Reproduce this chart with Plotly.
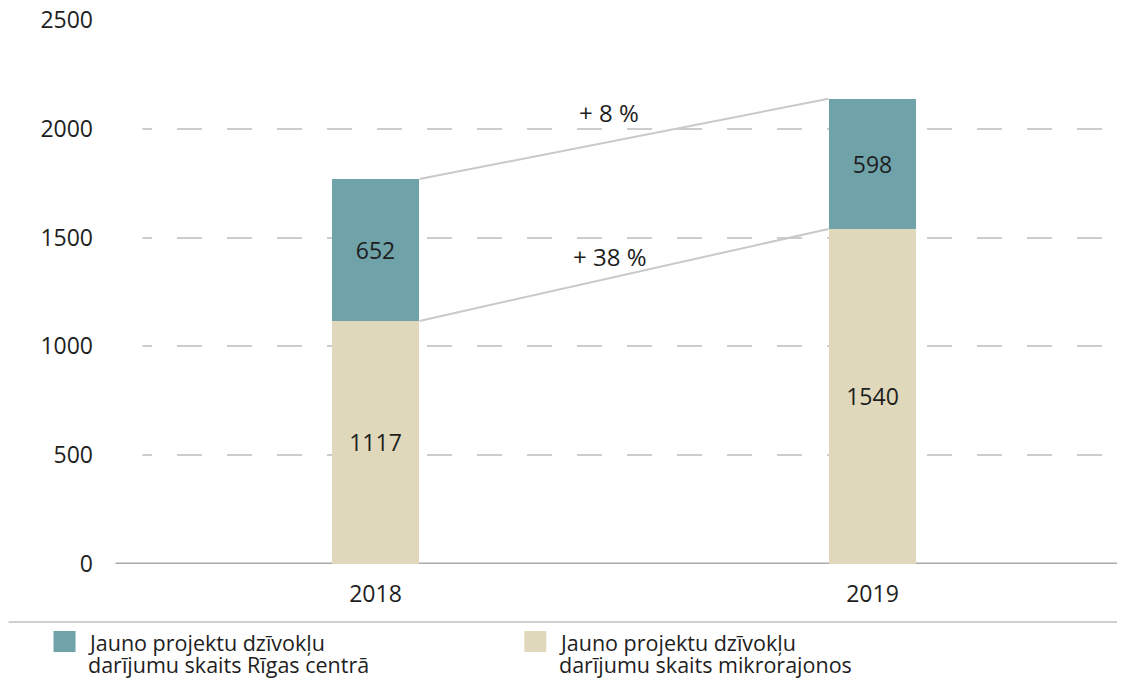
import plotly.graph_objects as go

# Datos del gráfico
anios = ["2018", "2019"]
centro = [652, 598]            # Rīgas centrā
mikrorajoni = [1117, 1540]     # mikrorajonos
nosaukumi = ["Jauno projektu dzīvokļu<br>darījumu skaits Rīgas centrā",
             "Jauno projektu dzīvokļu<br>darījumu skaits mikrorajonos"]
izmainas = ["+ 8 %", "+ 38 %"]
y_ticks = [0, 500, 1000, 1500, 2000, 2500]

KRASA_CENTRS = "#6fa3a9"
KRASA_MIKRO = "#e0d8bb"
PELEKS = "#c9c9c9"
TEKSTS = "#1e1e1e"
FONTS = "Open Sans"

# lapas noklusētā 8px atkāpe (body margin)
OFF = 8
W, H = 1125 - OFF, 684 - OFF
L, R, T, B = 118.5, 4, 12, 120
PW, PH = W - L - R, H - T - B


def px_x(p):
    # p - pikseļi logā
    return (p - OFF - L) / PW


def px_y(p):
    return (H - B - (p - OFF)) / PH


x = list(range(len(anios)))
bw = 0.177
kopa = [c + m for c, m in zip(centro, mikrorajoni)]

fig = go.Figure()

fig.add_trace(go.Bar(
    x=x, y=mikrorajoni, width=bw, marker=dict(color=KRASA_MIKRO, line=dict(width=0)),
    text=[str(v) for v in mikrorajoni], textposition="inside", insidetextanchor="middle",
    textfont=dict(size=23, color=TEKSTS, family=FONTS), showlegend=False, hoverinfo="skip"))
fig.add_trace(go.Bar(
    x=x, y=centro, width=bw, marker=dict(color=KRASA_CENTRS, line=dict(width=0)),
    text=[str(v) for v in centro], textposition="inside", insidetextanchor="middle",
    textfont=dict(size=23, color=TEKSTS, family=FONTS), showlegend=False, hoverinfo="skip"))

# Savienojošās līnijas starp stabiņiem
for vals in (kopa, mikrorajoni):
    fig.add_trace(go.Scatter(
        x=[x[0] + bw / 2, x[1] - bw / 2], y=vals, mode="lines",
        line=dict(color=PELEKS, width=2), showlegend=False, hoverinfo="skip"))

fig.add_annotation(x=0.47, y=2073, text=izmainas[0], showarrow=False,
                   font=dict(size=24, color=TEKSTS, family=FONTS))
fig.add_annotation(x=0.47, y=1411, text=izmainas[1], showarrow=False,
                   font=dict(size=24, color=TEKSTS, family=FONTS))

shapes = [
    # nulles līnija
    dict(type="line", xref="paper", yref="y", x0=px_x(115), x1=1.0, y0=0, y1=0,
         line=dict(color="#a9a9a9", width=3), layer="below"),
    # pārsedz pirmā svītras gabala sākumu
    dict(type="rect", xref="paper", yref="y", x0=px_x(118), x1=px_x(142), y0=250, y1=2600,
         fillcolor="white", line=dict(width=0), layer="above"),
    # atdalītājs virs leģendas
    dict(type="line", xref="paper", yref="paper", x0=px_x(8), x1=px_x(1125), y0=px_y(622), y1=px_y(622),
         line=dict(color="#cfcfcf", width=2)),
]

# Leģenda
leg_x = [(53, 85), (524, 557)]
for (sq, tx), kr, nos in zip(leg_x, [KRASA_CENTRS, KRASA_MIKRO], nosaukumi):
    shapes.append(dict(type="rect", xref="paper", yref="paper",
                       x0=px_x(sq), x1=px_x(sq + 22), y0=px_y(631), y1=px_y(652),
                       fillcolor=kr, line=dict(width=0)))
    for i, rinda in enumerate(nos.split("<br>")):
        fig.add_annotation(xref="paper", yref="paper", x=px_x(tx), y=px_y(642 + 22 * i),
                           xanchor="left", yanchor="middle", text=rinda, showarrow=False,
                           font=dict(size=21.5, color=TEKSTS, family=FONTS))

fig.update_layout(
    width=W, height=H,
    margin=dict(l=L, r=R, t=T, b=B, autoexpand=False),
    barmode="stack",
    plot_bgcolor="white", paper_bgcolor="white",
    font=dict(family=FONTS, color=TEKSTS, size=22),
    shapes=shapes,
    xaxis=dict(range=[-0.5, 1.5], tickvals=x, ticktext=anios, showgrid=False,
               zeroline=False, showline=False, ticks="", ticklabelstandoff=14,
               automargin=False, tickfont=dict(size=23, color=TEKSTS)),
    yaxis=dict(range=[0, 2500], tickvals=y_ticks, showgrid=True, gridcolor="#cccccc",
               gridwidth=2, griddash="25px,25px", zeroline=False, showline=False,
               ticks="", ticklabelstandoff=33, automargin=False, ticklabeloverflow="allow",
               tickfont=dict(size=23, color=TEKSTS)),
)

fig.write_html("out.html")
